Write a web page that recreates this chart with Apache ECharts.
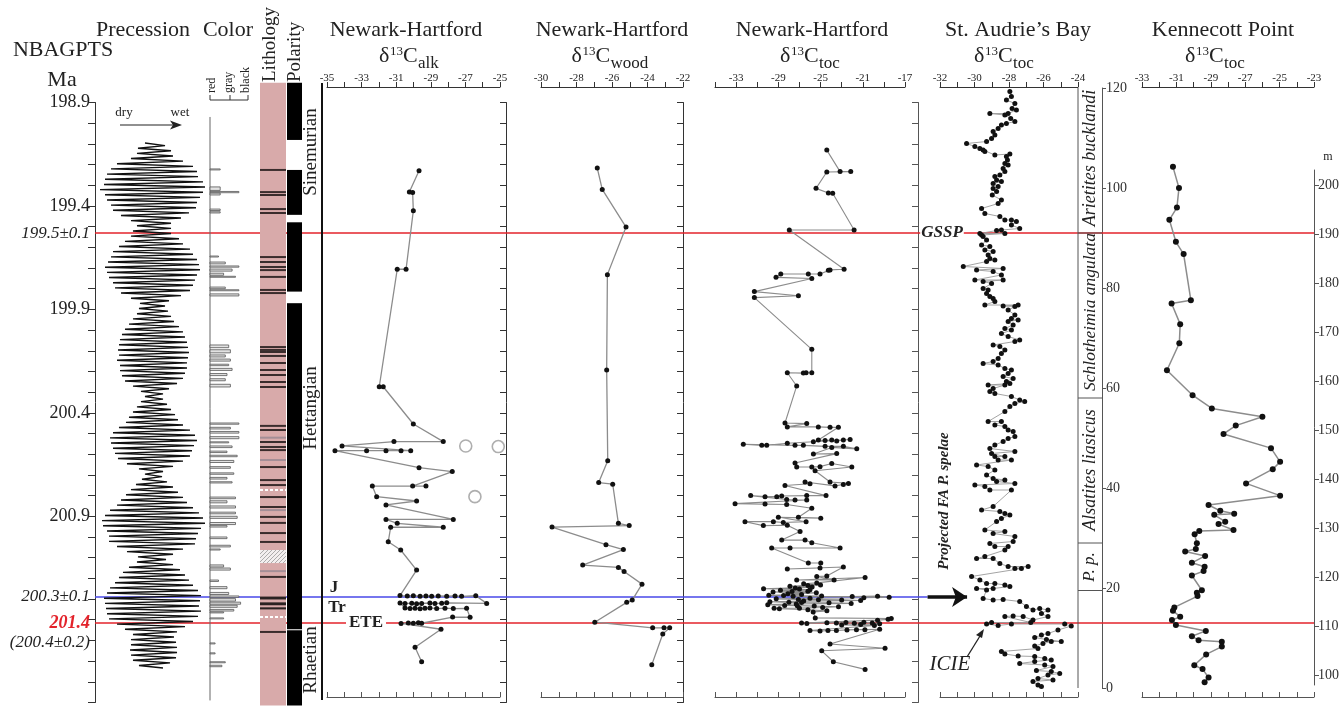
<!DOCTYPE html>
<html><head><meta charset="utf-8">
<script src="https://cdn.jsdelivr.net/npm/echarts@6/dist/echarts.min.js"></script>
<style>html,body{margin:0;padding:0;background:#fff}#c{width:1344px;height:709px}</style>
</head><body><div id="c"></div>
<script>
// ---------------- DATA ----------------
const ageTicks = [198.9,199.0,199.1,199.2,199.3,199.4,199.5,199.6,199.7,199.8,199.9,200.0,200.1,200.2,200.3,200.4,200.5,200.6,200.7,200.8,200.9,201.0,201.1,201.2,201.3,201.4,201.5,201.6,201.7,201.8];
const ageLabelValues = [198.9,199.4,199.531,199.9,200.4,200.9,201.290,201.416,201.508];
const ageLabelTexts = ['198.9','199.4','199.5±0.1','199.9','200.4','200.9','200.3±0.1','201.4','(200.4±0.2)'];
const ageLabelStyles = ['n','n','i','n','n','n','i','r','i'];
const gsspAge = 199.531, tjAge = 201.290, eteAge = 201.416;

const alkTickLabels = [-35,-33,-31,-29,-27,-25];
const woodTickLabels = [-30,-28,-26,-24,-22];
const nhTocTickLabels = [-33,-29,-25,-21,-17];
const sabTickLabels = [-32,-30,-28,-26,-24];
const kennTickLabels = [-33,-31,-29,-27,-25,-23];
const kennMeterTicks = [100,110,120,130,140,150,160,170,180,190,200];

// precession (relative amplitude, sampled every precessionStep Ma from precessionTop)
const precessionTop = 199.096, precessionStep = 0.0125;
const precessionAmp = [-8,12,-15,18,-16,20,-22,30,-36,40,
-42,44,-46,45,-48,50,-49,52,-53,50,
-48,47,-46,44,-42,43,-40,36,-32,28,
-22,18,-16,18,-20,18,-22,26,-28,30,
-34,37,-40,40,-42,44,-45,46,-48,47,
-46,44,-44,42,-40,40,-38,37,-32,28,
-22,16,-13,12,-14,15,-16,18,-20,21,
-24,26,-28,30,-31,32,-33,34,-34,35,
-35,36,-34,35,-36,34,-33,34,-33,32,
-31,30,-28,24,-20,16,-12,10,-8,10,
-12,14,-16,18,-20,22,-24,25,-27,30,
-34,37,-40,42,-43,44,-42,41,-40,39,
-38,37,-35,30,-26,20,-14,10,-8,9,
-11,14,-17,20,-22,25,-27,30,-32,34,
-36,40,-43,46,-48,50,-51,52,-50,48,
-46,45,-44,43,-44,42,-36,30,-26,20,
-15,13,-16,20,-24,27,-30,32,-34,36,
-38,40,-43,45,-46,48,-49,47,-48,46,
-47,48,-46,45,-44,40,-36,32,-28,24,
-20,21,-22,23,-22,24,-23,24,-22,23,
-20,17,-14,10];

// colour log: [top age, bottom age, level 0=red 1=gray 2=black]
const colorBars = [[199.221,199.226,0.6],[199.308,199.325,0.6],[199.330,199.336,1.7],[199.338,199.347,0.6],
[199.415,199.422,0.6],[199.428,199.434,0.6],[199.642,199.646,0.5],
[199.671,199.680,0.9],[199.690,199.696,1.7],[199.705,199.715,1.3],[199.725,199.735,0.8],[199.740,199.744,1.5],
[199.792,199.800,0.9],[199.805,199.810,1.7],[199.825,199.835,1.7],
[200.072,200.085,1.1],[200.095,200.110,1.2],[200.120,200.130,0.9],[200.140,200.150,1.2],[200.165,200.172,1.1],[200.185,200.195,1.3],[200.210,200.220,1.0],[200.235,200.245,0.9],[200.262,200.275,1.2],
[200.449,200.455,1.7],[200.470,200.478,1.2],[200.490,200.498,1.7],[200.515,200.525,1.7],[200.540,200.545,1.1],[200.560,200.568,1.3],[200.585,200.592,1.0],[200.605,200.612,1.6],[200.630,200.640,1.4],[200.660,200.668,1.2],[200.690,200.697,1.4],[200.712,200.720,1.0],[200.733,200.739,1.3],
[200.807,200.815,1.5],[200.825,200.835,1.0],[200.850,200.860,1.5],[200.880,200.888,1.5],[200.900,200.910,1.6],[200.930,200.940,1.5],[200.945,200.952,1.0],
[201.000,201.008,1.0],[201.040,201.048,1.2],[201.058,201.063,0.6],
[201.135,201.145,0.8],[201.150,201.160,1.2],
[201.208,201.215,0.5],[201.240,201.250,1.0],[201.268,201.278,1.1],[201.285,201.292,1.7],[201.298,201.310,1.5],[201.315,201.325,1.8],[201.330,201.340,1.6],[201.350,201.358,1.4],[201.362,201.367,0.8],
[201.391,201.395,0.8],[201.512,201.515,0.3],[201.560,201.565,0.3],[201.603,201.608,0.9],[201.620,201.627,0.7]];
const colorBaseline = [198.97, 201.79];

// lithology
const lithRange = [198.805, 201.815];
const lithBlack = [199.226,199.333,199.347,199.415,199.434,199.647,199.671,199.695,199.710,199.743,199.806,199.821,200.082,200.096,200.106,200.125,200.159,200.193,200.217,200.251,200.275,200.463,200.483,200.541,200.565,200.580,200.662,200.725,200.749,200.807,200.855,200.903,200.932,200.981,201.024,201.193,201.459];
const lithGray = [200.520,200.628,200.870,201.165];
const lithBands = [[201.288,201.302],[201.316,201.330],[201.340,201.350]];
const lithWhite = [200.773,201.387];
const lithHatch = [[201.063,201.126]];

// polarity (reversed = white)
const polarityRange = [198.805, 201.815];
const polarityReversed = [[199.081,199.226],[199.443,199.479],[199.814,199.870],[201.446,201.450]];

// Newark-Hartford d13C alk  [value, age Ma]
const alkPoints = [[-29.68,199.230],[-30.24,199.333],[-30.05,199.335],[-30.01,199.423],[-30.43,199.706],[-30.94,199.706],[-31.98,200.274],[-31.75,200.274],[-30.01,200.454],[-28.28,200.539],[-31.13,200.539],[-34.13,200.560],[-30.16,200.583],[-30.72,200.583],[-31.59,200.583],[-32.71,200.583],[-34.54,200.583],[-29.68,200.665],[-27.76,200.684],[-30.05,200.754],[-29.28,200.754],[-32.38,200.754],[-32.13,200.805],[-29.82,200.826],[-31.59,200.845],[-27.70,200.915],[-31.59,200.915],[-30.94,200.934],[-28.28,200.953],[-31.32,200.953],[-31.46,201.023],[-30.74,201.063],[-29.82,201.160],
[-30.78,201.283],[-30.36,201.285],[-30.01,201.284],[-29.62,201.286],[-29.28,201.285],[-28.95,201.287],[-28.57,201.285],[-28.08,201.286],[-27.60,201.285],[-27.22,201.287],[-26.40,201.284],
[-25.77,201.321],[-28.08,201.318],[-28.37,201.320],[-28.76,201.322],[-29.05,201.319],[-29.53,201.321],[-29.82,201.323],[-30.10,201.320],[-30.49,201.322],[-30.78,201.319],
[-30.49,201.343],[-30.20,201.346],[-29.91,201.344],[-29.62,201.347],[-29.34,201.345],[-29.05,201.343],[-28.66,201.346],[-28.18,201.344],[-27.70,201.346],[-26.93,201.345],
[-26.73,201.388],[-27.74,201.387],
[-29.53,201.417],[-29.72,201.415],[-30.01,201.417],[-30.30,201.416],[-30.72,201.418],
[-28.41,201.446],[-29.91,201.533],[-29.53,201.603]];
const alkOpen = [[-26.98,200.560],[-25.10,200.563],[-26.45,200.805]];

// Newark-Hartford d13C wood
const woodPoints = [[-26.83,199.217],[-26.55,199.320],[-25.21,199.502],[-26.26,199.732],[-26.30,200.193],[-26.24,200.631],[-26.75,200.737],[-25.96,200.745],[-25.64,200.934],[-25.03,200.945],[-29.38,200.952],[-26.34,201.037],[-25.36,201.061],[-27.65,201.136],[-25.64,201.147],[-25.32,201.167],[-24.31,201.228],[-24.86,201.305],[-25.17,201.316],[-26.97,201.412],[-23.71,201.439],[-23.07,201.439],[-22.75,201.439],[-23.14,201.469],[-23.76,201.618]];

// Newark-Hartford d13C toc
const nhTocPoints = [[-24.41,199.130],[-23.15,199.234],[-22.14,199.234],[-24.41,199.236],[-25.43,199.315],[-24.26,199.337],[-23.85,199.339],[-21.82,199.516],[-27.96,199.516],[-22.77,199.706],[-24.10,199.709],[-24.26,199.711],[-25.05,199.729],[-26.16,199.729],[-28.77,199.729],[-29.22,199.745],[-25.83,199.751],[-31.27,199.814],[-27.10,199.834],[-31.27,199.843],[-25.83,200.093],[-25.83,200.206],[-26.37,200.206],[-26.63,200.208],[-28.15,200.206],[-27.26,200.270],
[-28.37,200.449],[-26.31,200.452],[-28.15,200.468],[-25.21,200.468],[-24.10,200.470],[-23.31,200.470],
[-25.21,200.531],[-24.57,200.534],[-23.94,200.531],[-23.47,200.536],[-22.84,200.531],[-22.20,200.529],[-25.68,200.540],[-28.15,200.547],[-30.10,200.557],[-30.57,200.557],[-32.32,200.552],[-27.42,200.557],[-26.63,200.557],[-24.57,200.562],[-22.84,200.562],[-21.57,200.574],[-23.94,200.567],
[-25.68,200.599],[-23.47,200.597],
[-27.42,200.642],[-27.26,200.662],[-25.83,200.662],[-25.05,200.660],[-23.94,200.645],[-22.04,200.662],[-25.52,200.680],
[-24.10,200.734],[-22.36,200.741],[-22.84,200.746],[-23.63,200.753],[-26.47,200.734],[-26.00,200.743],[-28.37,200.751],
[-24.48,200.800],[-26.31,200.800],[-28.68,200.802],[-29.15,200.805],[-30.26,200.805],[-31.62,200.800],[-28.21,200.819],[-27.42,200.821],[-26.31,200.821],[-33.10,200.839],[-30.26,200.841],[-28.21,200.843],[-25.83,200.861],
[-27.10,200.905],[-24.98,200.909],[-29.00,200.905],[-26.37,200.926],[-28.53,200.930],[-29.47,200.926],[-32.16,200.926],[-30.42,200.945],[-28.15,200.943],[-26.94,200.974],
[-28.68,201.015],[-26.47,201.015],[-25.83,201.028],[-23.15,201.053],[-27.89,201.053],[-29.63,201.053],
[-26.16,201.126],[-24.98,201.126],[-25.05,201.150],[-28.15,201.155],[-22.84,201.145],
[-24.41,201.189],[-25.36,201.191],[-23.72,201.208],[-27.26,201.208],[-20.78,201.196],
[-25.36,201.222],[-26.6,201.226],[-25.0,201.232],[-26.2,201.234],[-27.9,201.238],[-25.8,201.242],[-27.4,201.246],[-30.4,201.250],[-27.0,201.252],[-26.0,201.255],[-28.8,201.258],[-26.2,201.262],[-27.7,201.264],[-29.5,201.266],[-25.4,201.270],[-28.1,201.274],[-26.8,201.278],[-29.9,201.282],[-28.5,201.283],[-24.9,201.285],[-27.6,201.287],[-22.0,201.288],[-19.6,201.286],[-18.5,201.291],[-20.9,201.294],[-26.0,201.296],[-29.2,201.299],[-27.1,201.302],[-25.2,201.303],[-23.0,201.304],[-21.2,201.307],[-26.6,201.310],[-29.8,201.313],[-28.0,201.316],[-26.8,201.317],[-24.2,201.318],[-22.1,201.321],[-27.3,201.324],[-30.0,201.327],[-28.4,201.331],[-27.2,201.332],[-25.6,201.334],[-23.3,201.337],[-24.8,201.341],[-27.0,201.344],[-29.4,201.345],[-28.9,201.347],[-26.2,201.352],[-24.4,201.357],[-25.7,201.362],
[-25.5,201.391],[-18.3,201.394],[-18.6,201.398],[-19.6,201.402],[-26.8,201.416],[-26.3,201.418],[-24.4,201.414],[-23.5,201.416],[-22.6,201.413],[-21.8,201.417],[-20.9,201.412],[-20.1,201.416],[-19.4,201.419],[-21.2,201.423],[-23.0,201.425],[-19.9,201.428],[-26.0,201.452],[-25.05,201.455],[-24.3,201.452],[-23.5,201.452],[-22.5,201.449],[-21.6,201.448],[-20.8,201.448],[-19.4,201.446],
[-24.10,201.517],[-18.89,201.538],[-24.89,201.550],[-23.79,201.603],[-20.78,201.640]];

// St. Audrie's Bay d13C toc [value, metres]
const sabPoints = [[-27.95,119.3],[-27.86,118.3],[-28.15,117.6],[-27.66,116.9],[-27.82,115.9],[-27.57,115.6],[-28.05,114.9],[-29.11,114.9],[-28.24,114.6],[-27.90,113.9],[-27.66,113.3],[-28.15,112.9],[-28.44,112.6],[-28.63,111.9],[-28.92,111.3],[-28.82,110.6],[-29.01,109.9],[-29.30,109.3],[-30.46,108.9],[-29.98,108.3],[-29.69,107.9],[-29.50,107.6],[-29.40,107.3],[-28.82,106.6],[-27.95,106.8],[-28.15,106.3],[-28.09,105.6],[-28.24,104.9],[-28.05,104.6],[-28.34,103.9],[-28.24,103.3],[-28.53,102.6],[-28.82,102.3],[-28.72,101.6],[-28.44,101.3],[-28.92,100.9],[-28.63,100.3],[-28.92,99.9],[-28.72,99.3],[-28.97,98.6],[-28.44,97.6],[-28.63,96.9],[-29.59,95.9],[-29.40,94.9],[-28.53,94.3],[-28.24,93.6],[-27.86,93.6],[-27.57,93.3],[-27.86,92.6],[-27.38,91.9],[-28.44,91.6],[-28.72,91.5],[-29.69,90.9],[-28.24,90.9],[-29.59,90.6],[-29.50,90.3],[-29.30,89.6],[-29.59,88.6],[-29.11,88.3],[-29.40,87.6],[-28.92,87.3],[-29.21,86.6],[-29.11,85.9],[-28.82,85.6],[-29.30,85.3],[-30.65,84.3],[-28.34,83.9],[-29.88,83.6],[-28.92,83.3],[-28.44,82.6],[-29.98,81.6],[-28.34,81.6],[-29.50,81.3],[-29.01,80.9],[-29.50,79.9],[-29.21,79.6],[-29.30,78.9],[-29.11,78.3],[-28.92,77.9],[-28.82,77.3],[-29.40,76.6],[-27.47,76.6],[-28.34,76.4],[-27.66,76.3],[-28.05,75.6],[-27.66,74.6],[-27.86,73.9],[-27.47,73.6],[-28.05,73.3],[-27.76,72.6],[-28.24,71.9],[-27.86,71.6],[-28.44,70.9],[-28.05,70.3],[-27.38,69.6],[-27.66,69.3],[-28.92,68.6],[-28.53,68.3],[-28.24,67.6],[-28.44,66.9],[-28.63,65.9],
[-28.92,65.3],[-29.50,64.9],[-28.63,64.6],[-28.24,63.9],[-27.86,63.6],[-28.05,62.9],[-28.34,62.3],[-27.76,61.9],[-28.15,61.3],[-27.95,60.9],[-29.21,60.6],[-28.24,60.6],[-28.92,59.9],[-29.11,59.3],[-28.82,58.9],[-27.86,58.3],[-27.38,57.6],[-27.09,57.3],[-27.66,56.9],[-27.95,56.3],[-28.24,55.3],[-29.21,53.3],[-28.44,53.3],[-28.82,52.6],[-28.24,52.3],[-28.05,51.6],[-27.76,51.3],[-27.66,50.3],[-28.05,49.9],[-28.34,49.3],[-28.82,48.6],[-29.11,47.9],[-27.66,47.3],[-29.01,46.9],[-28.24,46.3],[-28.82,46.3],[-28.63,45.6],[-27.86,45.6],[-29.88,44.6],[-29.21,44.3],[-28.82,43.6],[-29.30,42.6],[-28.92,41.9],[-28.24,41.6],[-28.72,41.3],[-27.66,40.9],[-29.98,40.6],[-29.40,40.3],[-29.11,39.6],[-27.86,39.6],[-28.92,36.3],[-29.59,35.6],[-28.53,35.3],[-28.24,34.9],[-27.95,34.6],[-28.44,33.9],[-28.72,33.3],[-29.40,31.6],[-28.24,31.3],[-28.92,30.9],[-27.66,30.3],[-27.76,29.3],[-29.11,28.9],[-28.82,28.3],[-28.05,28.3],[-28.24,27.6],[-29.40,26.3],[-29.88,25.9],[-28.92,25.9],[-28.53,24.9],[-28.05,24.3],[-26.89,24.3],[-27.66,23.9],[-27.28,23.9],[-30.17,22.3],[-29.69,21.6],[-29.30,20.9],[-28.82,20.9],[-28.24,20.6],[-27.95,20.3],[-28.92,19.9],[-29.88,19.9],[-29.30,19.6],[-29.50,17.9],[-28.92,17.6],[-28.34,17.7],[-27.38,17.3],[-26.99,16.3],[-26.61,15.6],[-26.22,15.9],[-25.74,15.6],[-26.12,14.9],[-25.74,14.3],[-26.61,13.6],[-27.18,14.3],[-27.76,14.4],[-28.24,14.3],[-26.74,13.1],[-29.01,13.1],[-29.30,12.8],[-28.63,12.5],[-27.86,12.8],[-24.77,12.8],[-24.39,12.4],[-25.16,11.6],[-25.74,10.9],[-26.12,10.6],[-26.51,10.1],[-25.83,9.7],[-24.97,9.3],[-25.55,9.3],[-26.03,8.9],[-26.51,8.4],[-26.32,7.9],[-28.44,7.3],[-28.24,6.8],[-27.47,6.4],[-26.51,6.3],[-25.93,5.9],[-25.55,5.6],[-26.51,5.3],[-27.38,4.9],[-25.93,4.6],[-25.45,4.3],[-26.41,3.5],[-25.55,3.3],[-25.06,2.9],[-25.74,2.6],[-26.32,1.9],[-25.45,1.6],[-26.61,1.3],[-26.32,0.6],[-26.12,0.3]];

// ammonite zones at St. Audrie's Bay (metres)
const zoneBoundaries = [91, 58, 29, 19.5];

// Kennecott Point d13C toc [value, metres]
const kennPoints = [[-31.20,203.7],[-30.85,199.4],[-30.97,195.4],[-31.41,192.9],[-31.03,188.4],[-30.58,185.9],[-30.16,176.5],[-31.28,175.8],[-30.78,171.6],[-30.83,167.7],[-31.55,162.2],[-30.06,157.1],[-28.94,154.4],[-26.00,152.7],[-27.55,150.9],[-28.26,149.2],[-25.50,146.3],[-24.97,143.5],[-25.40,142.0],[-26.95,139.1],[-24.97,136.6],[-29.13,134.7],[-28.45,133.5],[-27.64,132.9],[-28.80,132.7],[-28.16,131.3],[-28.55,130.8],[-27.68,129.6],[-29.67,129.4],[-29.94,128.7],[-29.81,126.9],[-29.87,125.7],[-30.49,125.2],[-29.33,124.3],[-30.10,122.9],[-29.36,122.1],[-29.42,121.2],[-30.10,120.3],[-29.52,117.3],[-29.81,116.8],[-29.77,116.1],[-31.12,113.8],[-31.20,113.1],[-30.78,111.9],[-31.26,111.2],[-31.03,110.2],[-29.29,109.0],[-30.10,107.9],[-29.71,107.1],[-28.36,106.8],[-28.36,105.8],[-29.27,104.2],[-29.96,102.0],[-29.48,101.2],[-29.13,99.5],[-29.36,98.5]];

// ---------------- CHART ----------------
const FONT = '"Liberation Serif","DejaVu Serif",serif';
const RED = '#e3232b', BLUE = '#4848e8', PINK = '#d8aaaa';
const AGE_MIN = 198.9, AGE_MAX = 201.8;
const PT = 102.5, PH = 600;

function g(left, top, width, height){ return {left, top, width, height, containLabel:false, outerBoundsMode:'none'}; }
const grids = [
  g(95,PT,1219,PH), g(98,PT,110,PH), g(210,PT,34,PH), g(260,PT,26,PH), g(287,PT,15,PH),
  g(327,PT,173,PH), g(541,PT,142,PH), g(715,PT,190,PH), g(918,PT,1,PH),
  g(940,88,138,600), g(1078,88,24,600), g(1142,170,172,515)
];
function hx(gi,min,max){ return {gridIndex:gi,type:'value',min,max,show:false}; }
function hyAge(gi){ return {gridIndex:gi,type:'value',inverse:true,min:AGE_MIN,max:AGE_MAX,show:false}; }
function topX(gi,min,max,interval,labels,offset){
  return {gridIndex:gi,type:'value',min,max,interval,position:'top',offset,
    axisLine:{show:true,onZero:false,lineStyle:{color:'#333',width:1}},
    axisTick:{show:true,inside:false,length:5,lineStyle:{color:'#333',width:1}},
    axisLabel:{show:true,customValues:labels,margin:3,fontSize:11,fontFamily:FONT,color:'#222',formatter:v=>String(v)},
    splitLine:{show:false}};
}
function botX(gi,min,max,interval,offset){
  return {gridIndex:gi,type:'value',min,max,interval,position:'bottom',offset,
    axisLine:{show:true,onZero:false,lineStyle:{color:'#555',width:1}},
    axisTick:{show:true,inside:true,length:5,lineStyle:{color:'#555',width:1}},
    axisLabel:{show:false},splitLine:{show:false}};
}
function tickY(gi,pos,offset,inside,color){
  return {gridIndex:gi,type:'value',inverse:true,min:AGE_MIN,max:AGE_MAX,position:pos,offset,
    axisLine:{show:true,onZero:false,lineStyle:{color,width:1}},
    axisTick:{show:true,inside,length:6,customValues:ageTicks,lineStyle:{color,width:1}},
    axisLabel:{show:false},splitLine:{show:false}};
}

const xAxes = [
  hx(0,0,1), hx(1,-55,55), hx(2,0,2), hx(3,0,1), hx(4,0,1),
  topX(5,-35,-25,1,alkTickLabels,15.5), botX(5,-35,-25,1,-5.5),
  topX(6,-30,-22,1,woodTickLabels,15.5), botX(6,-30,-22,1,-5.5),
  topX(7,-35,-17,2,nhTocTickLabels,15.5), botX(7,-35,-17,2,-5.5),
  hx(8,0,1),
  topX(9,-32,-24,1,sabTickLabels,1), botX(9,-32,-24,1,9),
  hx(10,0,1),
  topX(11,-33,-23,1,kennTickLabels,83), botX(11,-33,-23,1,12)
];
const yAxes = [
  {gridIndex:0,type:'value',inverse:true,min:AGE_MIN,max:AGE_MAX,position:'left',
    axisLine:{show:true,onZero:false,lineStyle:{color:'#333',width:1}},
    axisTick:{show:true,length:7,customValues:ageTicks,lineStyle:{color:'#333'}},
    axisLabel:{show:true,customValues:ageLabelValues,margin:5,
      formatter:v=>{ let k=0,b=1e9; ageLabelValues.forEach((a,i)=>{const d=Math.abs(a-v); if(d<b){b=d;k=i;}}); return '{'+ageLabelStyles[k]+'|'+ageLabelTexts[k]+'}'; },
      rich:{n:{fontSize:18,fontFamily:FONT,color:'#222'},
            i:{fontSize:17,fontFamily:FONT,fontStyle:'italic',color:'#222'},
            r:{fontSize:18,fontFamily:FONT,fontStyle:'italic',fontWeight:'bold',color:RED}}},
    splitLine:{show:false}},
  hyAge(1), hyAge(2), hyAge(3), hyAge(4),
  tickY(5,'right',6,true,'#333'),
  tickY(6,'right',0,true,'#333'),
  hyAge(7),
  tickY(8,'left',0,false,'#555'),
  {gridIndex:9,type:'value',min:0,max:120,show:false},
  {gridIndex:10,type:'value',min:0,max:120,interval:20,position:'right',
    axisLine:{show:true,onZero:false,lineStyle:{color:'#555'}},
    axisTick:{show:true,length:4,lineStyle:{color:'#555'}},
    axisLabel:{show:true,margin:4,fontSize:14,fontFamily:FONT,color:'#333'},splitLine:{show:false}},
  {gridIndex:11,type:'value',min:97.96,max:203.06,position:'right',
    axisLine:{show:true,onZero:false,lineStyle:{color:'#555'}},
    axisTick:{show:true,length:5,customValues:kennMeterTicks,lineStyle:{color:'#555'}},
    axisLabel:{show:true,customValues:kennMeterTicks,margin:4,fontSize:14,fontFamily:FONT,color:'#333'},splitLine:{show:false}}
];

function isoSeries(xi, yi, data, opts){
  return Object.assign({type:'line',xAxisIndex:xi,yAxisIndex:yi,data,symbol:'circle',symbolSize:5,
    itemStyle:{color:'#111'},lineStyle:{color:'#8c8c8c',width:1.3},clip:false,z:3,silent:true,animation:false}, opts||{});
}
function hLine(age, x1, color){
  return {type:'line',xAxisIndex:0,yAxisIndex:0,data:[[0,age],[x1,age]],symbol:'none',
    lineStyle:{color,width:1.6},z:1,silent:true,animation:false};
}
function rectBetween(api, xv0, yv0, xv1, yv1){
  const a = api.coord([xv0,yv0]), b = api.coord([xv1,yv1]);
  return {x:a[0], y:a[1], width:b[0]-a[0], height:Math.max(1,b[1]-a[1])};
}
function custom(xi, yi, data, renderItem, z){
  return {type:'custom',xAxisIndex:xi,yAxisIndex:yi,data,renderItem,clip:false,z:z||5,silent:true,animation:false};
}

const series = [
  hLine(gsspAge,1,RED), hLine(eteAge,1,RED), hLine(tjAge,0.683,BLUE),
  {type:'lines',coordinateSystem:'cartesian2d',xAxisIndex:0,yAxisIndex:0,
    data:[{coords:[[0.683,tjAge],[0.7154,tjAge]]}],symbol:['none','arrow'],symbolSize:15,
    lineStyle:{color:'#111',width:3.5,opacity:1},z:4,silent:true,animation:false},
  // precession
  {type:'line',xAxisIndex:1,yAxisIndex:1,data:precessionAmp.map((a,i)=>[a, precessionTop+i*precessionStep]),
    symbol:'none',lineStyle:{color:'#111',width:1.4},z:3,silent:true,animation:false},
  // colour
  custom(2,2,[[0,colorBaseline[0],colorBaseline[1]]],(p,api)=>{
    const a=api.coord([0,api.value(1)]), b=api.coord([0,api.value(2)]);
    return {type:'line',shape:{x1:a[0],y1:a[1],x2:b[0],y2:b[1]},style:{stroke:'#666',lineWidth:1}};
  },4),
  custom(2,2,colorBars.map(c=>[c[2],c[0],c[1]]),(p,api)=>({type:'rect',
    shape:rectBetween(api,0,api.value(1),api.value(0),api.value(2)),style:{fill:'#e2e2e2',stroke:'#555',lineWidth:0.8}}),5),
  // lithology
  custom(3,3,[[0,lithRange[0],lithRange[1]]],(p,api)=>({type:'rect',shape:rectBetween(api,0,api.value(1),1,api.value(2)),style:{fill:PINK}}),5),
  custom(3,3,lithBlack.map(v=>[0,v]),(p,api)=>{const r=rectBetween(api,0,api.value(1),1,api.value(1)); r.y-=1; r.height=2; return {type:'rect',shape:r,style:{fill:'#3a2c2c'}};},6),
  custom(3,3,lithGray.map(v=>[0,v]),(p,api)=>{const r=rectBetween(api,0,api.value(1),1,api.value(1)); r.y-=1; r.height=2; return {type:'rect',shape:r,style:{fill:'#a48e96'}};},6),
  custom(3,3,lithBands.map(b=>[0,b[0],b[1]]),(p,api)=>({type:'rect',shape:rectBetween(api,0,api.value(1),1,api.value(2)),style:{fill:'#2a2222'}}),6),
  custom(3,3,lithWhite.map(v=>[0,v]),(p,api)=>{const a=api.coord([0,api.value(1)]),b=api.coord([1,api.value(1)]);
    return {type:'line',shape:{x1:a[0],y1:a[1],x2:b[0],y2:b[1]},style:{stroke:'#fff',lineWidth:2,lineDash:[3,2]}};},7),
  custom(3,3,lithHatch.map(b=>[0,b[0],b[1]]),(p,api)=>{
    const r=rectBetween(api,0,api.value(1),1,api.value(2)); const x0=r.x,y0=r.y,x1=r.x+r.width,y1=r.y+r.height,h=r.height;
    const ch=[{type:'rect',shape:r,style:{fill:'#f3efef'}}];
    for(let s=-h;s<r.width;s+=4){ let xa=x0+s,ya=y1,xb=x0+s+h,yb=y0;
      if(xa<x0){ya-=(x0-xa);xa=x0;} if(xb>x1){yb+=(xb-x1);xb=x1;}
      if(xb>xa) ch.push({type:'line',shape:{x1:xa,y1:ya,x2:xb,y2:yb},style:{stroke:'#999',lineWidth:0.8}}); }
    return {type:'group',children:ch};
  },7),
  // polarity
  custom(4,4,[[0,polarityRange[0],polarityRange[1]]],(p,api)=>({type:'rect',shape:rectBetween(api,0,api.value(1),1,api.value(2)),style:{fill:'#000'}}),5),
  custom(4,4,polarityReversed.map(b=>[0,b[0],b[1]]),(p,api)=>({type:'rect',shape:rectBetween(api,0,api.value(1),1,api.value(2)),style:{fill:'#fff'}}),6),
  // isotope panels
  isoSeries(5,5,alkPoints),
  {type:'scatter',xAxisIndex:5,yAxisIndex:5,data:alkOpen,symbol:'circle',symbolSize:12,
    itemStyle:{color:'rgba(255,255,255,0)',borderColor:'#9a9a9a',borderWidth:1.6},z:3,silent:true,animation:false},
  isoSeries(7,6,woodPoints),
  isoSeries(9,7,nhTocPoints,{lineStyle:{color:'#8c8c8c',width:1.1}}),
  isoSeries(12,9,sabPoints,{lineStyle:{color:'#9a9a9a',width:0.9},symbolSize:5}),
  // zone column
  custom(14,10,[[0,0,120]],(p,api)=>{const a=api.coord([0,api.value(1)]),b=api.coord([0,api.value(2)]);
    return {type:'line',shape:{x1:a[0],y1:a[1],x2:b[0],y2:b[1]},style:{stroke:'#555',lineWidth:1}};},5),
  custom(14,10,zoneBoundaries.map(m=>[0,m]),(p,api)=>{const a=api.coord([0,api.value(1)]),b=api.coord([1,api.value(1)]);
    return {type:'line',shape:{x1:a[0],y1:a[1],x2:b[0],y2:b[1]},style:{stroke:'#555',lineWidth:1}};},5),
  isoSeries(15,11,kennPoints,{lineStyle:{color:'#8c8c8c',width:1.5},symbolSize:6})
];

function T(text, x, y, o){
  o=o||{};
  return {type:'text',x,y,rotation:o.rot||0,z:100,silent:true,
    style:{text,fontSize:o.size||22,fontFamily:FONT,fontStyle:o.style||'normal',fontWeight:o.weight||'normal',
      fill:o.color||'#222',align:o.align||'center',textAlign:o.align||'center',verticalAlign:'middle',textVerticalAlign:'middle',
      backgroundColor:o.bg,padding:o.pad}};
}
function isoTitle(cx, y, sub, subW){
  const w = 11+13+15+subW, x0 = cx - w/2;
  return [T('δ',x0,y,{align:'left'}), T('13',x0+11,y-4,{align:'left',size:13}),
          T('C',x0+24,y,{align:'left'}), T(sub,x0+39,y+8,{align:'left',size:17})];
}
function L(x1,y1,x2,y2,color,w){ return {type:'line',z:100,silent:true,shape:{x1,y1,x2,y2},style:{stroke:color||'#222',lineWidth:w||1}}; }
const V = Math.PI/2;

const graphics = [
  T('Precession',143,30), T('Color',228,30), T('NBAGPTS',63,50), T('Ma',62,80),
  T('Lithology',270,82,{rot:V,align:'left',size:19}), T('Polarity',295,82,{rot:V,align:'left',size:19}),
  T('red',212,93,{rot:V,align:'left',size:12}), T('gray',229,93,{rot:V,align:'left',size:12}), T('black',246,93,{rot:V,align:'left',size:12}),
  {type:'polyline',z:100,silent:true,shape:{points:[[210,95],[210,100],[248,100],[248,95]]},style:{stroke:'#333',fill:null,lineWidth:1}},
  L(230,100,230,95,'#333'),
  T('dry',124,113,{size:13}), T('wet',180,113,{size:13}),
  L(120,125,174,125,'#222',1.2),
  {type:'polygon',z:100,silent:true,shape:{points:[[182,125],[170,120.5],[173,125],[170,129.5]]},style:{fill:'#222'}},
  T('Sinemurian',311,152,{rot:V,size:19}), T('Hettangian',311,408,{rot:V,size:19}), T('Rhaetian',311,660,{rot:V,size:19}),
  L(322,83,322,700,'#111',2),
  T('J',334,588,{size:17,weight:'bold'}), T('Tr',337,608,{size:17,weight:'bold'}),
  T('ETE',366,623,{size:17,weight:'bold',bg:'#fff',pad:[0,3]}),
  T('Newark-Hartford',406,30), ...isoTitle(409,56,'alk',21),
  T('Newark-Hartford',612,30), ...isoTitle(610,56,'wood',38),
  T('Newark-Hartford',812,30), ...isoTitle(810,56,'toc',21),
  T("St. Audrie’s Bay",1018,30), ...isoTitle(1004,56,'toc',21),
  T('Kennecott Point',1223,30), ...isoTitle(1215,56,'toc',21),
  T('GSSP',942,233,{size:17,weight:'bold',style:'italic',bg:'#fff',pad:[0,1]}),
  T('Projected FA P. spelae',944,501,{rot:V,size:15,weight:'bold',style:'italic'}),
  T('ICIE',950,664,{size:21,style:'italic'}),
  L(967,657,980,636,'#222',1.3),
  {type:'polygon',z:100,silent:true,shape:{points:[[984,629],[976,635],[982,638]]},style:{fill:'#222'}},
  T('Arietites bucklandi',1090,158,{rot:V,size:18,style:'italic'}),
  T('Schlotheimia angulata',1090,312,{rot:V,size:17.5,style:'italic'}),
  T('Alsatites liasicus',1090,470,{rot:V,size:18,style:'italic'}),
  T('P. p.',1090,567,{rot:V,size:17,style:'italic'}),
  T('m',1328,157,{size:12})
];

const chart = echarts.init(document.getElementById('c'), null, {renderer:'canvas', width:1344, height:709});
chart.setOption({animation:false, backgroundColor:'#fff', grid:grids, xAxis:xAxes, yAxis:yAxes, series, graphic:{elements:graphics}});
</script></body></html>
